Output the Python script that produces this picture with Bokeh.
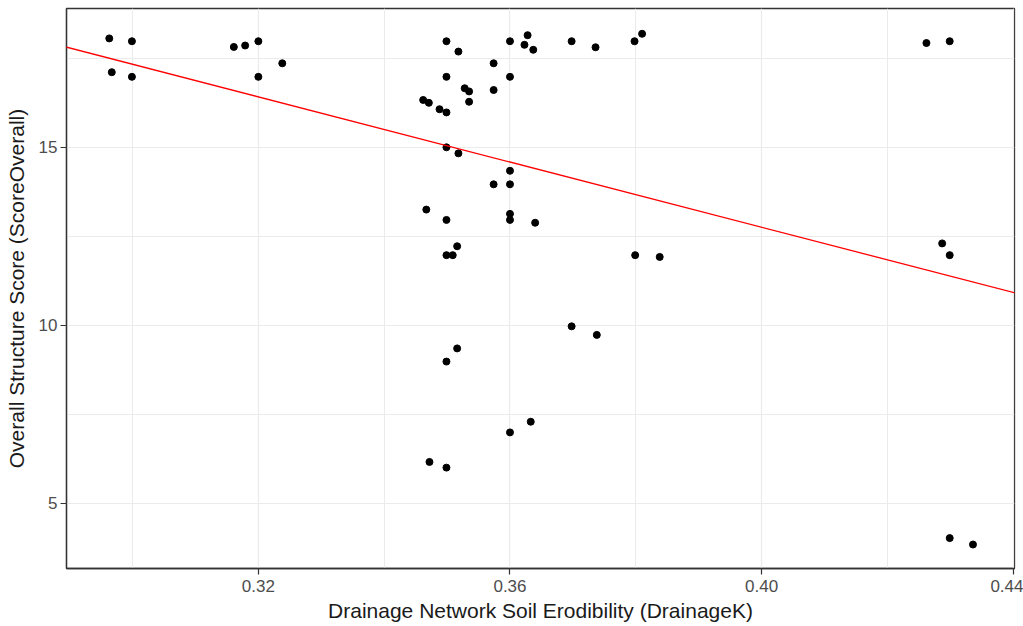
from bokeh.plotting import figure
from bokeh.models import Range1d, FixedTicker, Slope, ColumnDataSource
from bokeh.embed import file_html
from bokeh.resources import INLINE

# Data
drainage_k = [0.2963, 0.2999, 0.2967, 0.2999, 0.3161, 0.3179, 0.3200, 0.3200, 0.3238,
              0.3499, 0.3518, 0.3574, 0.3600, 0.3628, 0.3623, 0.3637, 0.3698, 0.3736,
              0.3798, 0.3810, 0.3499, 0.3600, 0.3528, 0.3535, 0.3574, 0.3535, 0.3462,
              0.3471, 0.3488, 0.3499, 0.3499, 0.3518, 0.3600, 0.3574, 0.3600, 0.3467,
              0.3499, 0.3600, 0.3600, 0.3640, 0.3516, 0.3499, 0.3509, 0.3799, 0.3838,
              0.3698, 0.3738, 0.3516, 0.3499, 0.3633, 0.3600, 0.3472, 0.3499,
              0.4262, 0.4299, 0.4287, 0.4299, 0.4299, 0.4336]
score_overall = [18.06, 17.98, 17.11, 16.98, 17.82, 17.86, 17.98, 16.98, 17.36,
                 17.98, 17.69, 17.36, 17.98, 18.15, 17.88, 17.74, 17.98, 17.81,
                 17.98, 18.19, 16.98, 16.98, 16.66, 16.57, 16.61, 16.28, 16.33,
                 16.25, 16.07, 15.98, 15.00, 14.83, 14.34, 13.96, 13.96, 13.25,
                 12.96, 13.13, 12.96, 12.88, 12.22, 11.97, 11.97, 11.97, 11.92,
                 9.97, 9.73, 9.35, 8.98, 7.29, 6.99, 6.16, 6.00,
                 17.93, 17.98, 12.30, 11.97, 4.02, 3.84]

# Linear trend line
trend_gradient = -45.79
trend_intercept = 31.07

x_ticks = [0.32, 0.36, 0.40, 0.44]
y_ticks = [5, 10, 15]

font = "Liberation Sans"

p = figure(width=1023, height=626, output_backend="svg", toolbar_location=None,
           x_range=Range1d(0.2895, 0.4402), y_range=Range1d(3.166, 18.90),
           min_border_left=66, min_border_right=9, min_border_top=8, min_border_bottom=58)

p.background_fill_color = "white"
p.border_fill_color = "white"
p.outline_line_color = "#333333"
p.outline_line_width = 1.3

p.xaxis.ticker = FixedTicker(ticks=x_ticks, minor_ticks=[0.30, 0.34, 0.38, 0.42])
p.yaxis.ticker = FixedTicker(ticks=y_ticks, minor_ticks=[7.5, 12.5, 17.5])
p.xaxis.major_label_overrides = {t: f"{t:.2f}" for t in x_ticks}

for ax in (p.xaxis, p.yaxis):
    ax.axis_line_color = "#333333"
    ax.axis_line_width = 1.3
    ax.major_tick_line_color = "#333333"
    ax.major_tick_line_width = 1.2
    ax.major_tick_in = 0
    ax.major_tick_out = 6
    ax.minor_tick_line_color = None
    ax.major_label_text_font = font
    ax.major_label_text_font_size = "17px"
    ax.major_label_text_color = "#4D4D4D"
    ax.axis_label_text_font = font
    ax.axis_label_text_font_size = "21px"
    ax.axis_label_text_font_style = "normal"
    ax.axis_label_text_color = "#1A1A1A"

p.xaxis.axis_label = "Drainage Network Soil Erodibility (DrainageK)"
p.yaxis.axis_label = "Overall Structure Score (ScoreOverall)"
p.xaxis.major_label_standoff = 5
p.xaxis.axis_label_standoff = 4
p.yaxis.major_label_standoff = 3
p.yaxis.axis_label_standoff = 8

for g in (p.xgrid, p.ygrid):
    g.grid_line_color = "#EBEBEB"
    g.grid_line_width = 1.2
    g.minor_grid_line_color = "#EBEBEB"
    g.minor_grid_line_width = 1.0

src = ColumnDataSource(dict(x=drainage_k, y=score_overall))
p.scatter("x", "y", source=src, size=7, fill_color="black", line_color="black")

p.add_layout(Slope(gradient=trend_gradient, y_intercept=trend_intercept,
                   line_color="#FF0000", line_width=1.3))

open("out.html", "w").write(file_html(p, INLINE))
